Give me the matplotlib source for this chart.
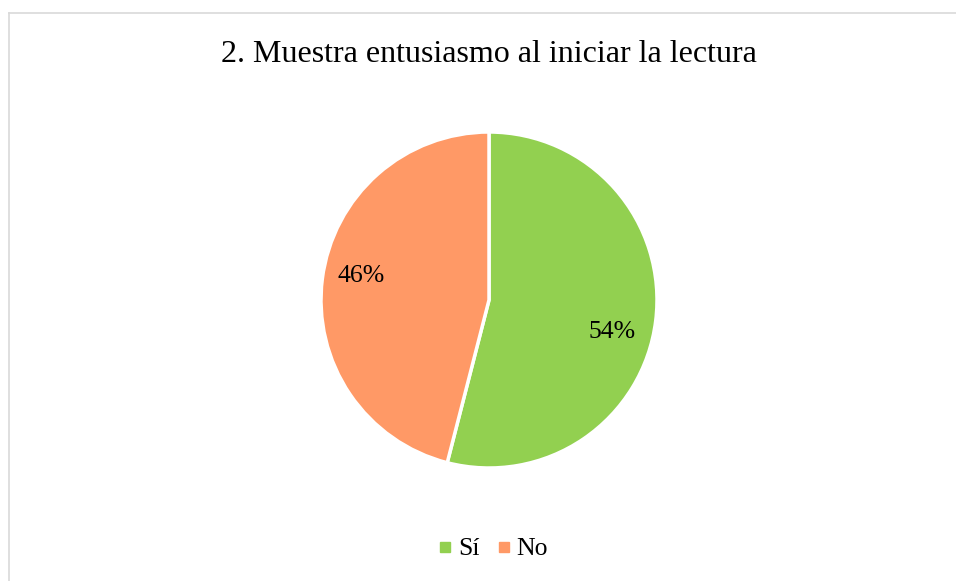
import matplotlib.pyplot as plt
from matplotlib.lines import Line2D

plt.rcParams['font.family'] = ['Liberation Serif', 'DejaVu Serif']

title = "2. Muestra entusiasmo al iniciar la lectura"
labels = ["Sí", "No"]
values = [54, 46]
colors = ["#92D050", "#FF9966"]


def main():
    fig = plt.figure(figsize=(9.56, 5.81), dpi=100)

    # pie centred at (489, 300) px with radius 168 px
    cx, cy, r = 489 / 956, 1 - 300 / 581, 168
    w, h = 2 * r / 956, 2 * r / 581
    ax = fig.add_axes([cx - w / 2, cy - h / 2, w, h])
    wedges, _, autotexts = ax.pie(
        values, colors=colors, startangle=90, counterclock=False,
        autopct="%d%%", pctdistance=0.76, radius=1,
        wedgeprops=dict(edgecolor="white", linewidth=2.5),
        textprops=dict(fontsize=18.5, color="black"))
    # best-fit label spots, nudged off the bisectors
    autotexts[0].set_position((0.73, -0.19))
    autotexts[1].set_position((-0.76, 0.145))
    ax.set_xlim(-1, 1)
    ax.set_ylim(-1, 1)
    ax.set_aspect("equal")

    fig.text(489 / 956, 1 - 54 / 581, title, ha="center", va="center", fontsize=23)

    handles = [Line2D([], [], marker="s", linestyle="", markersize=7,
                      markerfacecolor=c, markeredgecolor=c) for c in colors]
    fig.legend(handles, labels, loc="center", bbox_to_anchor=(492 / 956, 1 - 549 / 581),
               ncol=2, frameon=False, fontsize=18.5, handletextpad=0.15,
               columnspacing=0.6, handlelength=0.7)

    # chart area border (top and left edges visible)
    fig.add_artist(Line2D([8.5 / 956, 1], [1 - 12.5 / 581] * 2, color="#D9D9D9", linewidth=1.2))
    fig.add_artist(Line2D([8.5 / 956] * 2, [0, 1 - 12.5 / 581], color="#D9D9D9", linewidth=1.2))

    fig.savefig("out.png", dpi=100)


if __name__ == '__main__':
    main()
